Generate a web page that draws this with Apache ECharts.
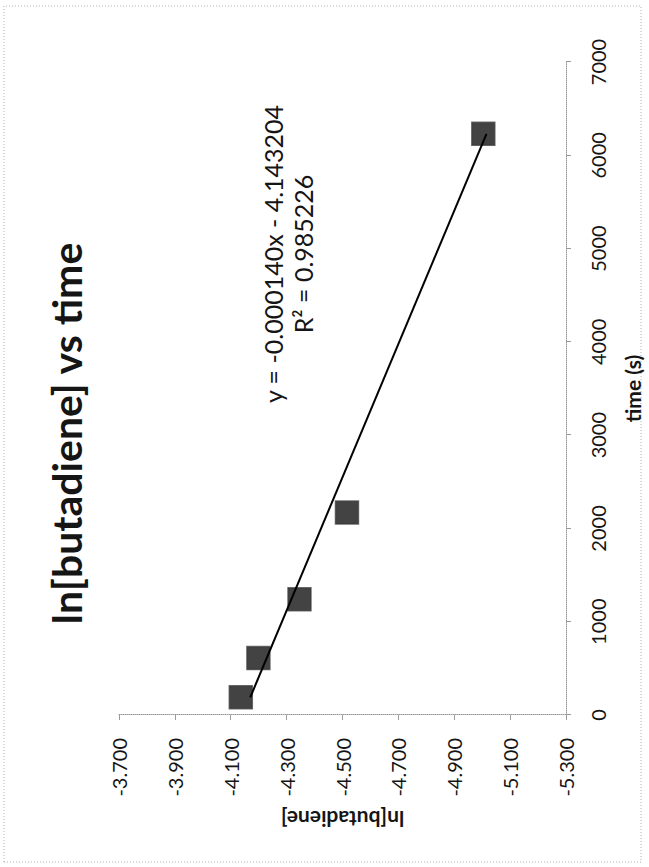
<!DOCTYPE html>
<html>
<head>
<meta charset="utf-8">
<script src="https://cdn.jsdelivr.net/npm/echarts@6/dist/echarts.min.js"></script>
<style>
  html, body { margin: 0; padding: 0; background: #ffffff; width: 649px; height: 867px; overflow: hidden; }
  #chart {
    position: absolute; left: 0; top: 0;
    width: 867px; height: 649px;
    transform-origin: 0 0;
    transform: translateY(867px) rotate(-90deg);
  }
</style>
</head>
<body>
<div id="chart"></div>
<script>
// ---- data ----
const chartTitle = 'ln[butadiene] vs time';
const xAxisTitle = 'time (s)';
const yAxisTitle = 'ln[butadiene]';
const times = [190, 610, 1240, 2170, 6230];                 // time (s)
const lnValues = [-4.136, -4.199, -4.346, -4.516, -5.004];  // ln[butadiene]
const timeTicks = [0, 1000, 2000, 3000, 4000, 5000, 6000, 7000];
const lnTicks = [-3.7, -3.9, -4.1, -4.3, -4.5, -4.7, -4.9, -5.1, -5.3];
const trendSlope = -0.000140;
const trendIntercept = -4.143204;
const equationLines = ['y = -0.000140x - 4.143204', 'R\u00b2 = 0.985226'];

// ---- build ----
const points = times.map((t, i) => [t, lnValues[i]]);
const tMin = Math.min(...times), tMax = Math.max(...times);
const trend = [tMin, tMax].map(t => [t, trendSlope * t + trendIntercept]);

const FONT = 'Lato, "Liberation Sans", sans-serif';
const TXT = '#151515';
const AXC = '#9a9a9a';

const chart = echarts.init(document.getElementById('chart'), null, { renderer: 'svg', width: 867, height: 649 });
chart.setOption({
  animation: false,
  backgroundColor: '#ffffff',
  title: {
    text: chartTitle,
    left: 'center',
    top: 41,
    textStyle: { fontFamily: FONT, fontWeight: 'bold', fontSize: 41, color: TXT }
  },
  grid: { left: 152, right: 62, top: 119, bottom: 83 },
  xAxis: {
    type: 'value',
    min: timeTicks[0],
    max: timeTicks[timeTicks.length - 1],
    interval: 1000,
    name: xAxisTitle,
    nameLocation: 'middle',
    nameGap: 56,
    nameTextStyle: { fontFamily: FONT, fontWeight: 'bold', fontSize: 21, color: TXT },
    axisLine: { show: true, onZero: false, lineStyle: { color: AXC, width: 1, type: 'dotted' } },
    axisTick: { show: true, length: 5, lineStyle: { color: AXC } },
    axisLabel: { fontFamily: FONT, fontSize: 20, color: TXT, margin: 22, formatter: v => String(v) },
    splitLine: { show: false }
  },
  yAxis: {
    type: 'value',
    min: lnTicks[lnTicks.length - 1],
    max: lnTicks[0],
    name: yAxisTitle,
    nameLocation: 'middle',
    nameGap: 94,
    nameTextStyle: { fontFamily: FONT, fontWeight: 'bold', fontSize: 21, color: TXT },
    axisLine: { show: true, onZero: false, lineStyle: { color: AXC, width: 1, type: 'dotted' } },
    axisTick: { show: true, length: 5, lineStyle: { color: AXC }, customValues: lnTicks },
    axisLabel: {
      fontFamily: FONT, fontSize: 20, color: TXT, margin: 23,
      customValues: lnTicks,
      formatter: v => v.toFixed(3)
    },
    splitLine: { show: false }
  },
  graphic: [
    {
      type: 'rect',
      shape: { x: 5, y: 4, width: 856, height: 637 },
      style: { fill: 'none', stroke: '#b0b0b0', lineWidth: 1, lineDash: [1, 2] },
      silent: true
    },
    {
      type: 'text',
      x: 613, y: 288,
      style: {
        text: equationLines.join('\n'),
        fontFamily: FONT, fontSize: 25, fill: TXT,
        textAlign: 'center', textVerticalAlign: 'middle', lineHeight: 30
      }
    }
  ],
  series: [
    {
      type: 'scatter',
      data: points,
      symbol: 'rect',
      symbolSize: 23,
      itemStyle: { color: '#141414', borderColor: 'rgba(60,60,60,0.9)', borderWidth: 1.5 },
      z: 2
    },
    {
      type: 'line',
      data: trend,
      symbol: 'none',
      lineStyle: { color: '#000000', width: 2 },
      z: 3
    }
  ]
});
</script>
</body>
</html>
